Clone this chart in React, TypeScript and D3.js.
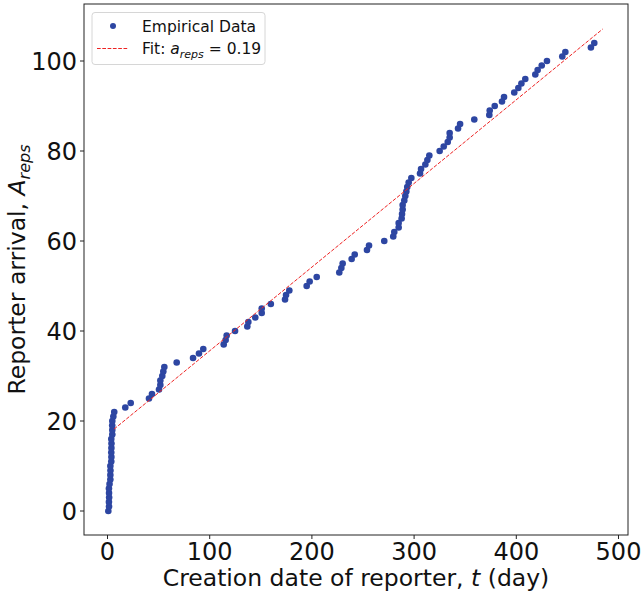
import React from "react";
import * as d3 from "d3";

// creation date (day) of each reporter
const creationDay = [
  0.8, 1.5, 1.4, 1.6, 1.5, 1.4, 2.0, 2.8, 2.8, 2.9, 2.8,
  3.7, 3.8, 3.7, 3.8, 3.9, 3.7, 4.7, 4.7, 4.6, 4.7, 5.7, 6.6,
  17.4, 22.7, 40.6, 43.5, 50.4, 51.7, 51.7, 53.6, 54.6, 55.6, 67.7,
  83.7, 89.5, 93.7, 113.7, 115.6, 116.6, 124.8, 136.8, 137.8, 144.6,
  150.9, 150.9, 159.8, 173.7, 174.7, 177.9, 194.9, 197.8, 204.7,
  226.8, 228.8, 230.1, 238.9, 241.9, 253.9, 255.9, 270.8, 279.6,
  280.6, 284.9, 284.9, 287.8, 288.2, 288.8, 288.8, 290.4, 291.4,
  292.4, 293.3, 294.7, 297.3, 305.8, 306.8, 311, 313, 314.9, 325,
  329, 332.9, 334.8, 334.8, 343, 345, 358.9, 373.6, 374, 378.9, 386,
  388, 398, 402, 405, 408.8, 418.6, 420.9, 424.9, 430, 445, 448,
  473, 476.3,
];

// reporter arrival index
const arrival = [
  0, 1, 2, 3, 4, 5, 6, 7, 8, 9, 10, 11, 12, 13, 14, 15, 16, 17, 18, 19,
  20, 21, 22, 23, 24, 25, 26, 27, 28, 29, 30, 31, 32, 33, 34, 35, 36, 37,
  38, 39, 40, 41, 42, 43, 44, 45, 46, 47, 48, 49, 50, 51, 52, 53, 54, 55,
  56, 57, 58, 59, 60, 61, 62, 63, 64, 65, 66, 67, 68, 69, 70, 71, 72, 73,
  74, 75, 76, 77, 78, 79, 80, 81, 82, 83, 84, 85, 86, 87, 88, 89, 90, 91,
  92, 93, 94, 95, 96, 97, 98, 99, 100, 101, 102, 103, 104,
];

// linear fit end points
const fitDay = [6.4, 484.5];
const fitArrival = [18.2, 107.1];

const xTicks = [0, 100, 200, 300, 400, 500];
const yTicks = [0, 20, 40, 60, 80, 100];

const W = 641;
const H = 594;
const left = 84;
const right = 628;
const top = 4;
const bottom = 535;

const dotColor = "#2d46a2";
const font = "DejaVu Sans, sans-serif";

export default function App() {
  const x = d3.scaleLinear().domain([-23, 509.3]).range([left, right]);
  const y = d3.scaleLinear().domain([-5.33, 112.67]).range([bottom, top]);

  const fitLine = d3
    .line<number>()
    .x((d, i) => x(fitDay[i]))
    .y((d) => y(d));

  return (
    <svg
      width={W}
      height={H}
      style={{ position: "absolute", left: 0, top: 0 }}
      fontFamily={font}
    >
      <rect width={W} height={H} fill="white" />

      {creationDay.map((t, i) => (
        <circle key={i} cx={x(t)} cy={y(arrival[i])} r={3.3} fill={dotColor} />
      ))}

      <path
        d={fitLine(fitArrival) || ""}
        fill="none"
        stroke="#ee2222"
        strokeWidth={1}
        strokeDasharray="3.7,1.6"
      />

      {/* frame */}
      <rect
        x={left}
        y={top}
        width={right - left}
        height={bottom - top}
        fill="none"
        stroke="#222"
        strokeWidth={1}
      />

      {xTicks.map((t) => (
        <g key={t} transform={`translate(${x(t)},${bottom})`}>
          <line y2={4} stroke="#222" />
          <text y={24.5} textAnchor="middle" fontSize={24} fill="#111">
            {t}
          </text>
        </g>
      ))}

      {yTicks.map((v) => (
        <g key={v} transform={`translate(${left},${y(v)})`}>
          <line x2={-4} stroke="#222" />
          <text x={-7} dy="0.36em" textAnchor="end" fontSize={24} fill="#111">
            {v}
          </text>
        </g>
      ))}

      <text x={(left + right) / 2} y={586} textAnchor="middle" fontSize={23.5} fill="#111">
        Creation date of reporter, <tspan fontStyle="italic">t</tspan> (day)
      </text>

      <text
        transform={`translate(25,${(top + bottom) / 2}) rotate(-90)`}
        textAnchor="middle"
        fontSize={23.5}
        fill="#111"
      >
        Reporter arrival, <tspan fontStyle="italic">A</tspan>
        <tspan fontStyle="italic" fontSize={16} dy={5}>
          reps
        </tspan>
      </text>

      {/* legend */}
      <g>
        <rect
          x={92}
          y={12.5}
          width={173}
          height={52}
          rx={3}
          fill="white"
          fillOpacity={0.8}
          stroke="#d6d6d6"
        />
        <circle cx={113} cy={26} r={3} fill={dotColor} />
        <text x={142} y={31.5} fontSize={15.5} fill="#111">
          Empirical Data
        </text>
        <line x1={97} x2={128} y1={48.5} y2={48.5} stroke="#ee2222" strokeDasharray="3.7,1.6" />
        <text x={142} y={54} fontSize={15.5} fill="#111">
          Fit: <tspan fontStyle="italic">a</tspan>
          <tspan fontStyle="italic" fontSize={11} dy={3.5}>
            reps
          </tspan>
          <tspan dy={-3.5}> = 0.19</tspan>
        </text>
      </g>
    </svg>
  );
}
